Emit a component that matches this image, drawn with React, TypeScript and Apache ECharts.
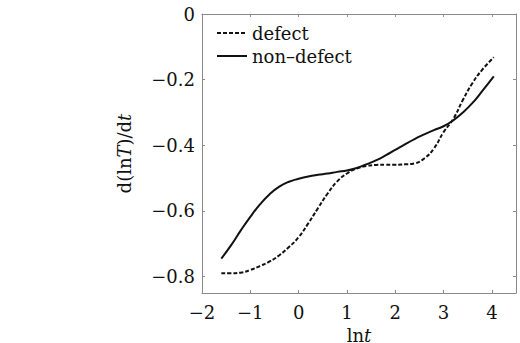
import React, { useEffect, useRef } from "react";
import * as echarts from "echarts";

const xTicks = [-2, -1, 0, 1, 2, 3, 4];
const yTicks = [-0.8, -0.6, -0.4, -0.2, 0];
const seriesNames = ["defect", "non\u2013defect"];

const lnT = [-1.6, -1.4, -1.2, -1.0, -0.8, -0.6, -0.4, -0.2, 0, 0.2, 0.4, 0.6, 0.8, 1.0, 1.2, 1.4, 1.6, 1.8, 2.0, 2.2, 2.4, 2.6, 2.8, 3.0, 3.2, 3.4, 3.6, 3.8, 4.04];
const nonDefect = [-0.745, -0.705, -0.66, -0.618, -0.58, -0.549, -0.526, -0.511, -0.502, -0.495, -0.49, -0.486, -0.481, -0.477, -0.469, -0.458, -0.446, -0.431, -0.414, -0.397, -0.381, -0.367, -0.354, -0.342, -0.324, -0.3, -0.271, -0.235, -0.19];
const defect = [-0.79, -0.79, -0.788, -0.78, -0.768, -0.754, -0.735, -0.71, -0.68, -0.638, -0.592, -0.547, -0.51, -0.486, -0.471, -0.463, -0.46, -0.459, -0.459, -0.458, -0.455, -0.44, -0.41, -0.36, -0.32, -0.262, -0.21, -0.17, -0.132];

const FONT = "DejaVu Serif";
const FS = 18;
const INK = "#111";
const minus = (v: number) => String(Math.round(v * 10) / 10).replace("-", "\u2212");

export default function App() {
  const ref = useRef<HTMLDivElement>(null);
  useEffect(() => {
    if (!ref.current) return;
    const chart = echarts.init(ref.current, null, { renderer: "svg" });
    const axisLine = { show: true, onZero: false, lineStyle: { color: "#8a8a8a", width: 1 } };
    const axisTickIn = { show: true, inside: true, length: 3, lineStyle: { color: "#8a8a8a" } };
    const rich = {
      n: { fontFamily: FONT, fontSize: FS, lineHeight: 20, color: INK },
      i: { fontFamily: FONT, fontSize: FS, lineHeight: 20, fontStyle: "italic", color: INK },
    };
    const legendRows = seriesNames.map((nm, k) => ({
      type: "group",
      children: [
        {
          type: "line",
          shape: { x1: 217, y1: 33 + k * 23, x2: 247, y2: 33 + k * 23 },
          style: { stroke: INK, lineWidth: 2, lineDash: k === 0 ? [4, 2] : null },
        },
        {
          type: "text",
          x: 252,
          y: 33 + k * 23,
          style: { text: nm, fontFamily: FONT, fontSize: FS, fill: INK, verticalAlign: "middle", align: "left" },
        },
      ],
    }));
    chart.setOption({
      animation: false,
      backgroundColor: "#ffffff",
      grid: { left: 202, right: 4, top: 14, bottom: 50, containLabel: false, outerBoundsMode: "none" },
      graphic: legendRows,
      xAxis: [
        {
          type: "value",
          min: -2,
          max: 4.5,
          interval: 1,
          position: "bottom",
          axisLine,
          axisTick: { ...axisTickIn, customValues: xTicks },
          splitLine: { show: false },
          axisLabel: {
            customValues: xTicks,
            margin: 10,
            fontFamily: FONT,
            fontSize: FS,
            color: INK,
            formatter: (v: number) => minus(v),
          },
          name: "{n|ln}{i|t}",
          nameLocation: "middle",
          nameGap: 25,
          nameTextStyle: { rich, lineHeight: 20 },
        },
        {
          type: "value",
          min: -2,
          max: 4.5,
          interval: 1,
          position: "top",
          axisLine,
          axisTick: { ...axisTickIn, customValues: xTicks },
          axisLabel: { show: false },
          splitLine: { show: false },
        },
      ],
      yAxis: [
        {
          type: "value",
          min: -0.85,
          max: 0,
          position: "left",
          axisLine,
          axisTick: { ...axisTickIn, customValues: yTicks },
          splitLine: { show: false },
          axisLabel: {
            customValues: yTicks,
            margin: 7,
            fontFamily: FONT,
            fontSize: FS,
            color: INK,
            formatter: (v: number) => minus(v),
          },
          name: "{n|d(ln}{i|T}{n|)/d}{i|t}",
          nameLocation: "middle",
          nameGap: 68,
          nameRotate: 90,
          nameTextStyle: { rich, lineHeight: 20 },
        },
        {
          type: "value",
          min: -0.85,
          max: 0,
          position: "right",
          axisLine,
          axisTick: { ...axisTickIn, customValues: yTicks },
          axisLabel: { show: false },
          splitLine: { show: false },
        },
      ],
      series: [
        {
          name: seriesNames[0],
          type: "line",
          smooth: true,
          symbol: "none",
          data: lnT.map((x, i) => [x, defect[i]]),
          lineStyle: { color: INK, width: 2, type: [4, 2] },
        },
        {
          name: seriesNames[1],
          type: "line",
          smooth: true,
          symbol: "none",
          data: lnT.map((x, i) => [x, nonDefect[i]]),
          lineStyle: { color: INK, width: 2 },
        },
      ],
    });
    return () => chart.dispose();
  }, []);
  return (
    <div
      ref={ref}
      style={{ position: "absolute", left: 0, top: 0, width: 520, height: 343 }}
    />
  );
}
